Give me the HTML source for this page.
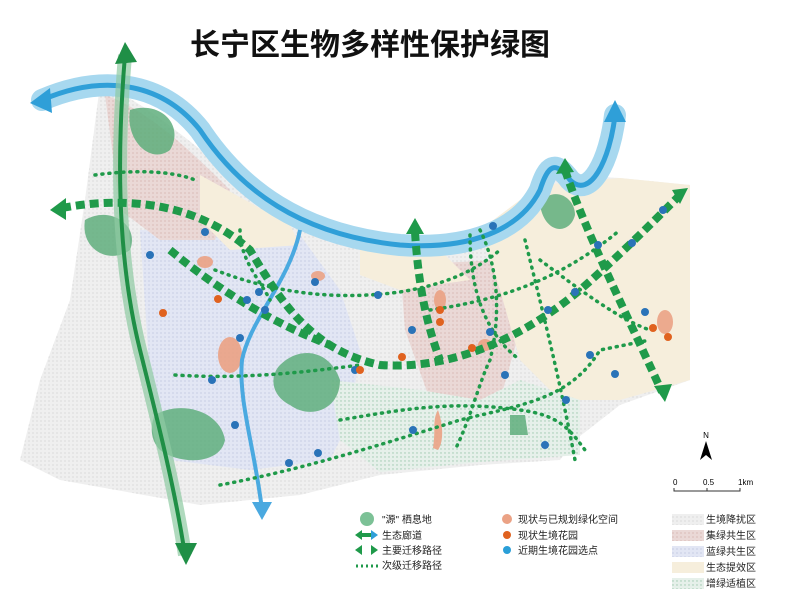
<!DOCTYPE html>
<html><head><meta charset="utf-8"><style>
html,body{margin:0;padding:0;background:#fff;}
svg{display:block;font-family:"Liberation Sans","Noto Sans CJK SC",sans-serif;}
</style></head><body>
<svg width="791" height="610" viewBox="0 0 791 610" xmlns="http://www.w3.org/2000/svg">
<defs>
<pattern id="dots" width="4" height="4" patternUnits="userSpaceOnUse"><rect width="4" height="4" fill="#efefef"/><circle cx="1" cy="1" r="0.6" fill="#ccc"/></pattern>
<pattern id="gdots" width="4" height="4" patternUnits="userSpaceOnUse"><rect width="4" height="4" fill="#e6f0ea"/><circle cx="1" cy="1" r="0.7" fill="#9cc7ad"/></pattern>
<pattern id="bdots" width="4" height="4" patternUnits="userSpaceOnUse"><rect width="4" height="4" fill="#e2e6f4"/><circle cx="1" cy="1" r="0.6" fill="#b4bcd8"/></pattern>
<pattern id="pdots" width="4" height="4" patternUnits="userSpaceOnUse"><rect width="4" height="4" fill="#ead8d6"/><circle cx="1" cy="1" r="0.6" fill="#cfa9a3"/></pattern>
</defs>
<text x="370" y="55" font-size="30" font-weight="bold" text-anchor="middle" fill="#111">长宁区生物多样性保护绿图</text>
<path d="M100,85 C150,100 220,170 300,228 C360,255 440,250 500,225 C530,205 540,180 560,175 L620,178 L690,185 L690,380 L620,405 L575,440 L560,460 L480,465 L380,475 L300,495 L200,505 L60,480 L20,460 L40,380 L70,300 L85,200 Z" fill="url(#dots)"/>
<path d="M140,230 L300,235 L340,290 L360,350 L350,420 L330,460 L250,470 L170,460 L150,380 Z" fill="url(#bdots)"/>
<path d="M105,95 C150,110 200,160 230,190 L215,240 L160,240 L120,210 Z" fill="url(#pdots)"/>
<path d="M400,265 L500,260 L520,330 L500,400 L430,400 L405,330 Z" fill="url(#pdots)"/>
<path d="M480,230 L540,185 L620,178 L690,185 L690,380 L620,400 L560,400 L520,360 L500,290 Z" fill="#f6eedc"/>
<path d="M200,175 L290,225 L300,245 L230,250 L200,220 Z" fill="#f6eedc"/>
<path d="M360,250 L440,250 L470,280 L400,290 L360,275 Z" fill="#f6eedc"/>
<path d="M330,380 L420,390 L480,400 L520,380 L580,400 L580,455 L480,462 L380,472 L340,440 Z" fill="url(#gdots)"/>
<g fill="#5fae7c" opacity="0.85">
<path d="M130,110 C160,100 185,125 170,150 C150,165 125,140 130,110Z"/>
<path d="M85,220 C110,205 140,225 130,250 C110,265 80,250 85,220Z"/>
<path d="M280,365 C300,345 330,350 340,380 C340,410 310,420 290,405 C270,395 270,375 280,365Z"/>
<path d="M155,415 C180,400 220,410 225,440 C220,465 180,465 160,450 C150,440 150,425 155,415Z"/>
<path d="M540,205 C550,185 575,195 575,215 C570,235 545,235 540,205Z"/>
<path d="M510,415 L525,415 L528,435 L510,435Z"/>
</g>
<g fill="#eba285" opacity="0.9">
<ellipse cx="230" cy="355" rx="12" ry="18"/><ellipse cx="205" cy="262" rx="8" ry="6"/>
<ellipse cx="318" cy="276" rx="7" ry="5"/><ellipse cx="440" cy="300" rx="6" ry="10"/>
<path d="M438,410 C445,430 442,445 438,450 L433,448 C436,430 432,420 438,410Z"/>
<ellipse cx="665" cy="322" rx="8" ry="12"/><ellipse cx="485" cy="345" rx="7" ry="6"/>
</g>
<path d="M42,100 C100,75 160,80 200,130 C240,190 300,235 400,245 C470,250 520,230 540,190 C548,165 555,160 570,180 C590,200 610,160 615,115" fill="none" stroke="#a7d8ef" stroke-width="22" stroke-linecap="round"/>
<path d="M42,100 C100,75 160,80 200,130 C240,190 300,235 400,245 C470,250 520,230 540,190 C548,165 555,160 570,180 C590,200 610,160 615,115" fill="none" stroke="#2f9fd8" stroke-width="5"/>
<polygon points="30,103 50,88 52,113" fill="#2f9fd8"/>
<polygon points="615,100 604,122 626,122" fill="#2f9fd8"/>
<path d="M300,230 C290,280 250,320 242,360 C238,400 255,450 262,510" fill="none" stroke="#4aa9e0" stroke-width="4"/>
<polygon points="262,520 252,502 272,502" fill="#4aa9e0"/>
<path d="M125,55 C118,140 115,250 140,350 C160,430 175,490 185,555" fill="none" stroke="#8fcba2" stroke-width="14" opacity="0.7"/>
<path d="M125,55 C118,140 115,250 140,350 C160,430 175,490 185,555" fill="none" stroke="#1f8f46" stroke-width="4"/>
<polygon points="125,42 115,64 137,62" fill="#1f8f46"/>
<polygon points="186,565 175,543 197,543" fill="#1f8f46"/>
<g fill="none" stroke="#1f9a4a" stroke-width="8" stroke-dasharray="9,5">
<path d="M62,208 C130,195 200,205 250,250 C280,300 310,350 380,365 C450,370 520,340 580,290 C620,255 650,225 680,195"/>
<path d="M415,232 C418,280 425,320 440,360"/>
<path d="M565,170 C585,230 620,300 662,392"/>
<path d="M170,250 C230,300 290,330 330,345"/>
</g>
<g fill="#1f9a4a">
<polygon points="50,210 66,198 66,220"/><polygon points="688,188 672,190 680,204"/>
<polygon points="415,218 406,234 424,234"/><polygon points="565,158 556,174 574,172"/>
<polygon points="665,402 654,386 672,384"/>
</g>
<g fill="none" stroke="#1f9a4a" stroke-width="3.5" stroke-dasharray="1,6" stroke-linecap="round">
<path d="M95,175 C130,170 170,170 195,180"/>
<path d="M215,270 C280,295 340,300 400,292 C440,285 470,275 500,250"/>
<path d="M175,375 C250,380 320,370 360,365"/>
<path d="M220,485 C300,470 380,445 460,420 C520,405 570,400 600,350 L650,340"/>
<path d="M340,420 C400,410 450,400 520,410 C560,415 570,430 585,450"/>
<path d="M480,230 C500,270 500,320 490,360 C480,380 470,420 455,450"/>
<path d="M525,240 C540,300 560,380 575,460"/>
<path d="M540,260 C580,290 620,320 650,330"/>
<path d="M430,310 C500,300 560,280 620,230"/>
<path d="M240,230 C240,260 260,280 270,300"/>
<path d="M470,235 C470,280 480,330 520,360"/>
</g>
<g fill="#2a73b8">
<circle cx="205" cy="232" r="4"/><circle cx="259" cy="292" r="4"/><circle cx="265" cy="310" r="4"/><circle cx="240" cy="338" r="4"/>
<circle cx="212" cy="380" r="4"/><circle cx="315" cy="282" r="4"/><circle cx="378" cy="295" r="4"/><circle cx="355" cy="370" r="4"/>
<circle cx="412" cy="330" r="4"/><circle cx="490" cy="332" r="4"/><circle cx="505" cy="375" r="4"/><circle cx="548" cy="310" r="4"/>
<circle cx="575" cy="292" r="4"/><circle cx="598" cy="245" r="4"/><circle cx="632" cy="243" r="4"/><circle cx="663" cy="210" r="4"/>
<circle cx="645" cy="312" r="4"/><circle cx="590" cy="355" r="4"/><circle cx="615" cy="374" r="4"/><circle cx="566" cy="400" r="4"/>
<circle cx="545" cy="445" r="4"/><circle cx="413" cy="430" r="4"/><circle cx="318" cy="453" r="4"/><circle cx="289" cy="463" r="4"/>
<circle cx="235" cy="425" r="4"/><circle cx="493" cy="226" r="4"/><circle cx="150" cy="255" r="4"/><circle cx="247" cy="300" r="4"/>
</g>
<g fill="#e0621f">
<circle cx="163" cy="313" r="4"/><circle cx="218" cy="299" r="4"/><circle cx="402" cy="357" r="4"/><circle cx="440" cy="310" r="4"/>
<circle cx="440" cy="322" r="4"/><circle cx="472" cy="348" r="4"/><circle cx="653" cy="328" r="4"/><circle cx="668" cy="337" r="4"/>
<circle cx="360" cy="370" r="4"/>
</g>
<text x="706" y="438" font-size="8" text-anchor="middle">N</text>
<polygon points="706,441 700,460 706,455 712,460" fill="#000"/>
<text x="673" y="485" font-size="8">0</text><text x="703" y="485" font-size="8">0.5</text><text x="738" y="485" font-size="8">1km</text>
<path d="M674,488 V491 H740 V488 M707,488 V491" fill="none" stroke="#333" stroke-width="1"/>
<g font-size="10" fill="#222">
<circle cx="367" cy="519" r="7" fill="#7cc196"/><text x="382" y="523">"源" 栖息地</text>
<polygon points="355,535 362,530 362,540" fill="#1f9a4a"/><rect x="362" y="533" width="10" height="4" fill="#1f9a4a"/><polygon points="378,535 371,530 371,540" fill="#2f9fd8"/><text x="382" y="539">生态廊道</text>
<polygon points="355,550 362,545 362,555" fill="#1f9a4a"/><polygon points="378,550 371,545 371,555" fill="#1f9a4a"/><text x="382" y="554">主要迁移路径</text>
<path d="M356,566 H378" stroke="#1f9a4a" stroke-width="3" stroke-dasharray="2,3"/><text x="382" y="569">次级迁移路径</text>
<circle cx="507" cy="519" r="5" fill="#eba285"/><text x="518" y="523">现状与已规划绿化空间</text>
<circle cx="507" cy="535" r="4" fill="#e0621f"/><text x="518" y="539">现状生境花园</text>
<circle cx="507" cy="550" r="4" fill="#2a9fd8"/><text x="518" y="554">近期生境花园选点</text>
<rect x="672" y="514" width="32" height="11" fill="url(#dots)"/><text x="706" y="523">生境降扰区</text>
<rect x="672" y="530" width="32" height="11" fill="url(#pdots)"/><text x="706" y="539">集绿共生区</text>
<rect x="672" y="546" width="32" height="11" fill="url(#bdots)"/><text x="706" y="555">蓝绿共生区</text>
<rect x="672" y="562" width="32" height="11" fill="#f6eedc"/><text x="706" y="571">生态提效区</text>
<rect x="672" y="578" width="32" height="11" fill="url(#gdots)"/><text x="706" y="587">增绿适植区</text>
</g>
</svg>
</body></html>
